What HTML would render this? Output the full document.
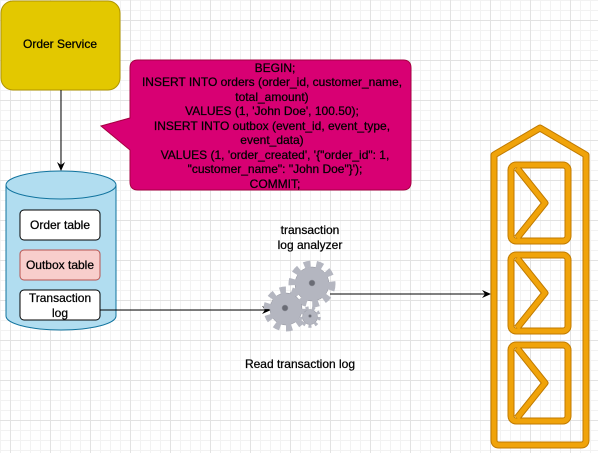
<!DOCTYPE html>
<html><head><style>
html,body{margin:0;padding:0}
body{width:598px;height:453px;overflow:hidden;background:#fff;
background-image:linear-gradient(#e2e2e2 1px,transparent 1px),linear-gradient(90deg,#e2e2e2 1px,transparent 1px),linear-gradient(#f2f2f2 1px,transparent 1px),linear-gradient(90deg,#f2f2f2 1px,transparent 1px);
background-size:40px 40px,40px 40px,10px 10px,10px 10px;background-position:0 20px,10px 0,0 0,0 0;
font-family:"Liberation Sans",Arial,sans-serif;}
svg{position:absolute;left:0;top:0}
text{font-family:"Liberation Sans",Arial,sans-serif;font-size:12px;fill:#000;stroke:#000;stroke-width:0.25}
</style></head><body>
<svg width="598" height="453" viewBox="0 0 598 453">
<defs>
<marker id="a" markerWidth="10" markerHeight="10" refX="8" refY="5" orient="auto" markerUnits="userSpaceOnUse"><path d="M0,1 L9,5 L0,9 L3,5 Z" fill="#000"/></marker>
</defs>
<rect x="1" y="1" width="119" height="89" rx="12" fill="#e3c800" stroke="#b09500"/>
<text x="60" y="48" text-anchor="middle">Order Service</text>
<path d="M138,60 H403 Q411,60 411,68 V182 Q411,190 403,190 H138 Q130,190 130,182 V150 L101,126 L130,118 V68 Q130,60 138,60 Z" fill="#d80073" stroke="#a50040"/>
<g text-anchor="middle">
<text x="275" y="72">BEGIN;</text>
<text x="272" y="86">INSERT INTO orders (order_id, customer_name,</text>
<text x="272" y="101">total_amount)</text>
<text x="272" y="115">VALUES (1, 'John Doe', 100.50);</text>
<text x="272" y="130">INSERT INTO outbox (event_id, event_type,</text>
<text x="272" y="144">event_data)</text>
<text x="275" y="159">VALUES (1, 'order_created', '{"order_id": 1,</text>
<text x="275" y="173">"customer_name": "John Doe"}');</text>
<text x="275" y="188">COMMIT;</text>
</g>
<line x1="61" y1="90" x2="61" y2="170" stroke="#000" marker-end="url(#a)"/>
<path d="M6,185 V316 A55,14 0 0 0 116,316 V185" fill="#b1ddf0" stroke="#10739e"/>
<ellipse cx="61" cy="185" rx="55" ry="14" fill="#b1ddf0" stroke="#10739e"/>
<rect x="20" y="210" width="80" height="30" rx="4" fill="#fff" stroke="#000"/>
<text x="60" y="229" text-anchor="middle">Order table</text>
<rect x="20" y="250" width="80" height="30" rx="4" fill="#f8cecc" stroke="#b85450"/>
<text x="60" y="269" text-anchor="middle">Outbox table</text>
<rect x="20" y="290" width="80" height="30" rx="4" fill="#fff" stroke="#000"/>
<text x="60" y="302" text-anchor="middle">Transaction</text>
<text x="60" y="317" text-anchor="middle">log</text>
<line x1="100" y1="310" x2="270" y2="310" stroke="#000" marker-end="url(#a)"/>
<line x1="330" y1="294" x2="490" y2="294" stroke="#000" marker-end="url(#a)"/>
<text x="310" y="234" text-anchor="middle">transaction</text>
<text x="310" y="249" text-anchor="middle">log analyzer</text>
<text x="300" y="368" text-anchor="middle">Read transaction log</text>
<g fill="#b4b6c0" stroke="#8d8f99" stroke-width="0.5">
<circle cx="312" cy="284" r="17"/><circle cx="312" cy="284" r="20" fill="none" stroke="#b4b6c0" stroke-width="7" stroke-dasharray="6.5 5.8"/>
<circle cx="286" cy="309" r="16"/><circle cx="286" cy="309" r="19" fill="none" stroke="#b4b6c0" stroke-width="7" stroke-dasharray="6 5.9"/>
<circle cx="310" cy="317" r="7.5"/><circle cx="310" cy="317" r="9" fill="none" stroke="#b4b6c0" stroke-width="3.5" stroke-dasharray="3 3.3"/>
<circle cx="312" cy="283" r="3" fill="#6a6c75"/><circle cx="285" cy="308" r="3" fill="#6a6c75"/><circle cx="310" cy="316" r="1.5" fill="#6a6c75"/>
</g>
<g fill="none" stroke="#c07a00" stroke-width="7" stroke-linejoin="round">
<path d="M494,155 L540,128 L586,155 V440 Q586,445 581,445 H499 Q494,445 494,440 Z"/>
<rect x="511" y="165" width="57" height="76" rx="5"/><path d="M517,168 L545,203 L517,238"/>
<rect x="511" y="255" width="57" height="76" rx="5"/><path d="M517,258 L545,293 L517,328"/>
<rect x="511" y="345" width="57" height="76" rx="5"/><path d="M517,348 L545,383 L517,418"/>
</g>
<g fill="none" stroke="#f0a30a" stroke-width="5" stroke-linejoin="round">
<path d="M494,155 L540,128 L586,155 V440 Q586,445 581,445 H499 Q494,445 494,440 Z"/>
<rect x="511" y="165" width="57" height="76" rx="5"/><path d="M517,168 L545,203 L517,238"/>
<rect x="511" y="255" width="57" height="76" rx="5"/><path d="M517,258 L545,293 L517,328"/>
<rect x="511" y="345" width="57" height="76" rx="5"/><path d="M517,348 L545,383 L517,418"/>
</g>
</svg>
</body></html>
